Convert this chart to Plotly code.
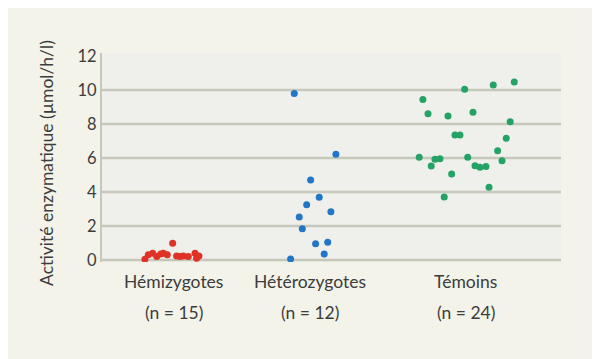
import plotly.graph_objects as go

# ---- data ----
categories = ["Hémizygotes", "Hétérozygotes", "Témoins"]
counts = ["(n = 15)", "(n = 12)", "(n = 24)"]
group_x = [0.0, 0.93, 2.0]

hemi_offset = [-0.199, -0.176, -0.146, -0.118, -0.091, -0.073, -0.046, -0.009,
               0.018, 0.041, 0.064, 0.098, 0.144, 0.155, 0.171]
hemi_values = [0.04, 0.3, 0.4, 0.2, 0.35, 0.4, 0.3, 0.98,
               0.24, 0.2, 0.24, 0.2, 0.4, 0.1, 0.24]

hetero_offset = [-0.106, 0.179, 0.006, 0.065, -0.021, 0.145, -0.072, -0.051,
                 0.040, 0.123, 0.099, -0.131]
hetero_values = [9.8, 6.22, 4.7, 3.69, 3.25, 2.84, 2.53, 1.84, 0.96, 1.04, 0.35, 0.06]

temoin_offset = [-0.009, 0.187, 0.331, -0.295, -0.260, -0.123, 0.048, 0.303,
                 -0.075, -0.041, 0.276, 0.217, -0.320, -0.212, -0.178, 0.012,
                 0.247, -0.238, 0.062, 0.096, 0.137, -0.098, 0.158, -0.149]
temoin_values = [10.04, 10.29, 10.47, 9.45, 8.6, 8.47, 8.7, 8.14,
                 7.35, 7.35, 7.16, 6.43, 6.04, 5.92, 5.95, 6.04,
                 5.84, 5.53, 5.55, 5.45, 5.5, 5.06, 4.28, 3.7]

y_ticks = [0, 2, 4, 6, 8, 10, 12]
grid_values = [0, 2, 4, 6, 8, 10]
y_title = "Activité enzymatique (µmol/h/l)"

colors = ["#de3326", "#2177c6", "#25a265"]
FONT = "Lato, 'Open Sans', sans-serif"
TXT = "#3c3c3c"

fig = go.Figure()
series = [(hemi_offset, hemi_values), (hetero_offset, hetero_values), (temoin_offset, temoin_values)]
for i, (offs, vals) in enumerate(series):
    fig.add_trace(go.Scatter(
        x=[group_x[i] + o for o in offs], y=vals, mode="markers",
        marker=dict(color=colors[i], size=7, line=dict(width=0)),
        showlegend=False, hoverinfo="y"))

for g in grid_values:
    fig.add_shape(type="line", xref="paper", x0=0, x1=1, yref="y", y0=g, y1=g,
                  line=dict(color="#c6c8bc", width=2.4), layer="below")

for i, (c, n) in enumerate(zip(categories, counts)):
    fig.add_annotation(x=group_x[i], y=0, xref="x", yref="paper", text=c,
                       showarrow=False, yshift=-32, font=dict(family=FONT, size=17.5, color=TXT))
    fig.add_annotation(x=group_x[i], y=0, xref="x", yref="paper", text=n,
                       showarrow=False, yshift=-63, font=dict(family=FONT, size=17.5, color=TXT))

fig.add_annotation(x=0, y=0.474, xref="paper", yref="paper", text=y_title, textangle=-90,
                   showarrow=False, xanchor="center", yanchor="middle", xshift=-55,
                   font=dict(family=FONT, size=17.5, color=TXT))

fig.update_layout(
    width=600, height=359,
    margin=dict(l=94, r=47, t=45, b=105),
    paper_bgcolor="#f3f3ea", plot_bgcolor="#efefeb",
    font=dict(family=FONT, color=TXT, size=15),
    xaxis=dict(range=[-0.493, 2.651], showgrid=False, zeroline=False,
               showticklabels=False, ticks="", showline=False, fixedrange=True),
    yaxis=dict(range=[-0.12, 12.18], tickvals=y_ticks, showgrid=False, zeroline=False,
               showline=True, linecolor="#c6c8bc", linewidth=2,
               ticks="", ticklen=0, tickfont=dict(family=FONT, size=16.5, color=TXT)),
)

fig.write_html("out.html")
